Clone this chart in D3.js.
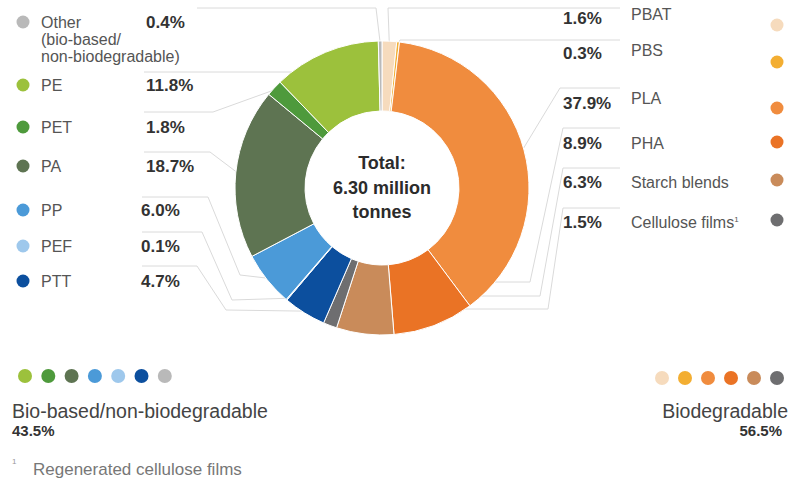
<!DOCTYPE html>
<html>
<head>
<meta charset="utf-8">
<script src="https://cdn.jsdelivr.net/npm/d3@7"></script>
<style>
  body { margin: 0; background: #fff; }
  text { font-family: "Liberation Sans", Arial, Helvetica, sans-serif; }
</style>
</head>
<body>
<svg id="svg-main" width="789" height="480"></svg>
<script>
// data (share of global capacity, %)
var materials = ["PBAT", "PBS", "PLA", "PHA", "Starch blends", "Cellulose films",
                 "PTT", "PEF", "PP", "PA", "PET", "PE", "Other"];
var shares = [1.6, 0.3, 37.9, 8.9, 6.3, 1.5, 4.7, 0.1, 6.0, 18.7, 1.8, 11.8, 0.4];
var groups = ["Biodegradable", "Biodegradable", "Biodegradable", "Biodegradable", "Biodegradable", "Biodegradable",
              "Bio-based/non-biodegradable", "Bio-based/non-biodegradable", "Bio-based/non-biodegradable",
              "Bio-based/non-biodegradable", "Bio-based/non-biodegradable", "Bio-based/non-biodegradable",
              "Bio-based/non-biodegradable"];
var leftOrder = ["Other", "PE", "PET", "PA", "PP", "PEF", "PTT"];
var rightOrder = ["PBAT", "PBS", "PLA", "PHA", "Starch blends", "Cellulose films"];
var leftDots = ["PE", "PET", "PA", "PP", "PEF", "PTT", "Other"];
var totalTonnes = 6.30;

var palette = ["#f6dbbd", "#f3ae32", "#f08c3e", "#ea7325", "#c98b5a", "#6e6e70",
               "#0c4f9e", "#9ec8ec", "#4b9ad8", "#5e7452", "#4e9a3c", "#9cc13c", "#b9b9b9"];

var data = materials.map(function(m, i) {
    return { name: m, share: shares[i], group: groups[i] };
});

var color = d3.scaleOrdinal().domain(materials).range(palette);

var svg = d3.select("#svg-main");
var cx = 382, cy = 188, R = 147, r0 = 77;

var pie = d3.pie().sort(null).value(function(d) { return d.share; });
var arcs = pie(data);
var arc = d3.arc().innerRadius(r0).outerRadius(R);
var rim = d3.arc().innerRadius(R - 2).outerRadius(R - 2);
var byName = {};
arcs.forEach(function(a) { byName[a.data.name] = a; });

// leader lines (drawn first, the ring covers their ends)
var leaders = {
    "Other": [[197, 8], [376, 8], "arc"],
    "PE": [[144, 72], [300, 72]],
    "PET": [[144, 112], [213, 112], "arc"],
    "PA": [[144, 152], [210, 152], "arc"],
    "PP": [[142, 197], [208, 197], [240, 275], "arc"],
    "PEF": [[142, 232], [202, 232], [232, 300], "arc"],
    "PTT": [[142, 266], [197, 266], [226, 310], "arc"],
    "PBAT": [[620, 8], [388, 8], "arc"],
    "PBS": [[620, 40], [400, 40], "arc"],
    "PLA": [[620, 88], [560, 88], "arc"],
    "PHA": [[620, 128], [563, 128], [530, 282], [470, 282]],
    "Starch blends": [[620, 168], [563, 168], [540, 296], [470, 296]],
    "Cellulose films": [[620, 208], [563, 208], [548, 309], [440, 309]]
};

var line = d3.line();
Object.keys(leaders).forEach(function(k) {
    var pts = leaders[k].map(function(p) {
        if (p === "arc") {
            var c = rim.centroid(byName[k]);
            return [cx + c[0], cy + c[1]];
        }
        return p;
    });
    svg.append("path")
      .attr("d", line(pts))
      .attr("fill", "none")
      .attr("stroke", "#dadada")
      .attr("stroke-width", 1);
});

var ring = svg.append("g").attr("transform", "translate(" + cx + "," + cy + ")");
ring.selectAll("path")
  .data(arcs)
  .enter()
  .append("path")
  .attr("d", arc)
  .attr("fill", function(d) { return color(d.data.name); })
  .attr("stroke", "#fff")
  .attr("stroke-width", 1);

ring.append("circle").attr("r", r0 - 0.5).attr("fill", "#fff");

var centerLines = ["Total:", totalTonnes.toFixed(2) + " million", "tonnes"];
ring.selectAll("text.total")
  .data(centerLines)
  .enter()
  .append("text")
  .attr("class", "total")
  .attr("x", 0)
  .attr("y", function(d, i) { return -25 + i * 24.5; })
  .attr("dy", "0.35em")
  .attr("text-anchor", "middle")
  .attr("font-weight", "bold")
  .style("font-size", "18px")
  .attr("fill", "#2b2b2b")
  .text(function(d) { return d; });

function pct(v) { return v.toFixed(1) + "%"; }

// left legend
var leftY = [22, 85, 127, 166, 210, 246, 281];
var leftPctX = [146, 146, 146, 146, 141, 141, 141];
leftOrder.forEach(function(name, i) {
    var d = byName[name].data;
    svg.append("circle")
      .attr("cx", 23).attr("cy", leftY[i]).attr("r", 6.5)
      .attr("fill", color(name));
    var t = svg.append("text")
      .attr("x", 41).attr("y", leftY[i]).attr("dy", "0.35em")
      .attr("fill", "#555")
      .style("font-size", "16px");
    if (name === "Other") {
        t.text("Other");
        t.append("tspan").attr("x", 41).attr("dy", 17).text("(bio-based/");
        t.append("tspan").attr("x", 41).attr("dy", 17).text("non-biodegradable)");
    } else {
        t.text(name);
    }
    svg.append("text")
      .attr("x", leftPctX[i]).attr("y", leftY[i]).attr("dy", "0.35em")
      .attr("fill", "#333")
      .attr("font-weight", "bold")
      .style("font-size", "17px")
      .text(pct(d.share));
});

// right legend
var rightY = [18, 53, 103, 143, 182, 222];
var rightLabelDy = [-4, -3, -5, 0, 0, 0];
var rightDotY = [25, 62, 108, 142, 180, 220];
rightOrder.forEach(function(name, i) {
    var d = byName[name].data;
    svg.append("text")
      .attr("x", 563).attr("y", rightY[i]).attr("dy", "0.35em")
      .attr("fill", "#333")
      .attr("font-weight", "bold")
      .style("font-size", "17px")
      .text(pct(d.share));
    var t = svg.append("text")
      .attr("x", 631).attr("y", rightY[i] + rightLabelDy[i]).attr("dy", "0.35em")
      .attr("fill", "#555")
      .style("font-size", "16px")
      .text(name);
    if (name === "Cellulose films") {
        t.append("tspan").attr("dy", -6).style("font-size", "8px").text("1");
    }
    svg.append("circle")
      .attr("cx", 777).attr("cy", rightDotY[i]).attr("r", 6.5)
      .attr("fill", color(name));
});

// group summaries
var groupTotals = d3.rollup(data, function(v) { return d3.sum(v, function(d) { return d.share; }); },
                            function(d) { return d.group; });

leftDots.forEach(function(name, i) {
    svg.append("circle")
      .attr("cx", 25 + i * 23.3).attr("cy", 376).attr("r", 7)
      .attr("fill", color(name));
});
rightOrder.forEach(function(name, i) {
    svg.append("circle")
      .attr("cx", 662 + i * 23).attr("cy", 378).attr("r", 7)
      .attr("fill", color(name));
});

svg.append("text")
  .attr("x", 12).attr("y", 411).attr("dy", "0.35em")
  .attr("fill", "#444").style("font-size", "19.5px")
  .text("Bio-based/non-biodegradable");
svg.append("text")
  .attr("x", 12).attr("y", 431).attr("dy", "0.35em")
  .attr("fill", "#333").attr("font-weight", "bold").style("font-size", "15px")
  .text(pct(groupTotals.get("Bio-based/non-biodegradable")));

svg.append("text")
  .attr("x", 788).attr("y", 411).attr("dy", "0.35em")
  .attr("text-anchor", "end")
  .attr("fill", "#444").style("font-size", "19.5px")
  .text("Biodegradable");
svg.append("text")
  .attr("x", 782).attr("y", 431).attr("dy", "0.35em")
  .attr("text-anchor", "end")
  .attr("fill", "#333").attr("font-weight", "bold").style("font-size", "15px")
  .text(pct(groupTotals.get("Biodegradable")));

// footnote
svg.append("text")
  .attr("x", 12).attr("y", 464)
  .attr("fill", "#999").style("font-size", "8px")
  .text("1");
svg.append("text")
  .attr("x", 33).attr("y", 469).attr("dy", "0.35em")
  .attr("fill", "#777").style("font-size", "17px")
  .text("Regenerated cellulose films");
</script>
</body>
</html>
